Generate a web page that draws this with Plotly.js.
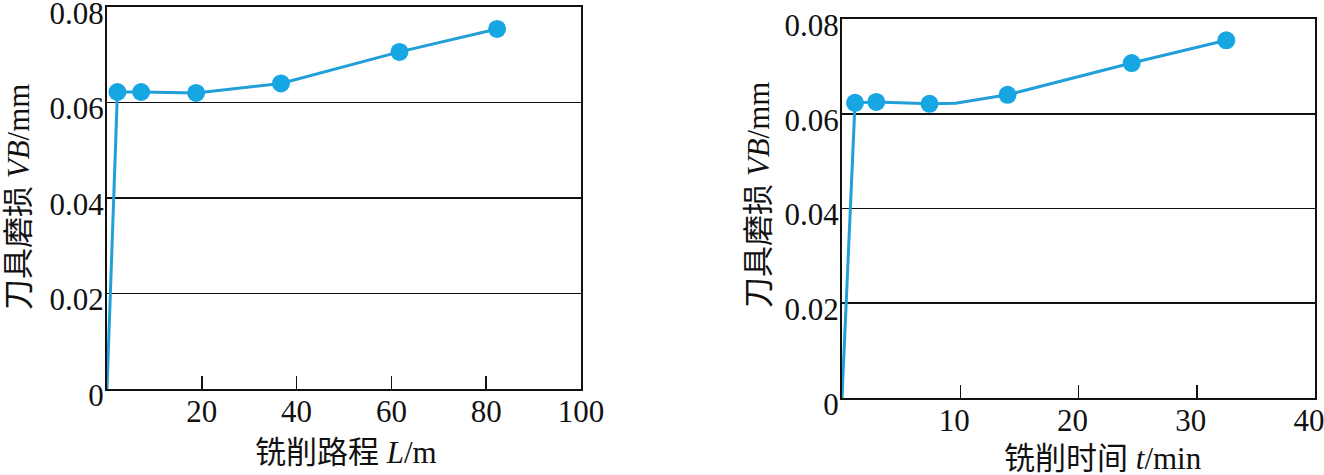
<!DOCTYPE html>
<html><head><meta charset="utf-8">
<script src="https://cdn.plot.ly/plotly-3.0.1.min.js"></script>
<style>html,body{margin:0;padding:0;background:#fff}#c{width:1324px;height:475px}</style>
</head><body><div id="c"></div>
<script>
// Left: wear vs milling distance
const distLine = [0, 2.2, 7.2, 18.8, 36.7, 61.7, 82.3];
const distLineVB = [0, 0.0622, 0.0622, 0.0620, 0.0640, 0.0706, 0.0754];
const distPts = [2.2, 7.2, 18.8, 36.7, 61.7, 82.3];
const distVB = [0.0622, 0.0622, 0.0620, 0.0640, 0.0706, 0.0754];
// Right: wear vs milling time
const timeLine = [0, 1.1, 2.9, 7.4, 9.6, 14.0, 24.5, 32.5];
const timeLineVB = [0, 0.0623, 0.0625, 0.0621, 0.0622, 0.0640, 0.0707, 0.0755];
const timePts = [1.1, 2.9, 7.4, 14.0, 24.5, 32.5];
const timeVB = [0.0623, 0.0625, 0.0621, 0.0640, 0.0707, 0.0755];
const yTicks = [0, 0.02, 0.04, 0.06, 0.08];
const yTickText = ['0', '0.02', '0.04', '0.06', '0.08'];
const xTicksL = [20, 40, 60, 80, 100];
const xTicksR = [10, 20, 30, 40];
const xTitleL = '铣削路程 <i>L</i>/m';
const xTitleR = '铣削时间 <i>t</i>/min';
const yTitle = '刀具磨损 <i>VB</i>/mm';

const lineCol = '#229ed8', ptCol = '#16a6e2';
const F = 'Liberation Serif, Times New Roman, Noto Sans CJK SC, serif';
const FS = 31;
const font = {family: F, size: FS, color: '#111'};
const traces = [
  {x: distLine, y: distLineVB, mode: 'lines', line: {color: lineCol, width: 3}, xaxis: 'x', yaxis: 'y', hoverinfo: 'skip'},
  {x: distPts, y: distVB, mode: 'markers', marker: {color: ptCol, size: 18}, xaxis: 'x', yaxis: 'y'},
  {x: timeLine, y: timeLineVB, mode: 'lines', line: {color: lineCol, width: 3}, xaxis: 'x2', yaxis: 'y2', hoverinfo: 'skip'},
  {x: timePts, y: timeVB, mode: 'markers', marker: {color: ptCol, size: 18}, xaxis: 'x2', yaxis: 'y2'}
];
const xCommon = {showline: true, mirror: true, linecolor: '#111', linewidth: 2, showgrid: false, zeroline: false,
  ticks: 'inside', ticklen: 13, tickwidth: 1.5, tickcolor: '#111', ticklabeloverflow: 'allow',
  tickfont: font, ticklabelstandoff: -6};
const yCommon = {showline: true, mirror: true, linecolor: '#111', linewidth: 2, showgrid: true, gridcolor: '#111', gridwidth: 1.6,
  zeroline: false, ticks: '', tickvals: yTicks, ticktext: yTickText, range: [0, 0.08], ticklabeloverflow: 'allow',
  tickfont: font, ticklabelstandoff: -5, ticklabelshift: 6};
const P = (px) => px / 1324, Q = (py) => 1 - py / 475;
const layout = {
  width: 1324, height: 475, margin: {l: 0, r: 0, t: 0, b: 0}, showlegend: false,
  paper_bgcolor: '#fff', plot_bgcolor: '#fff',
  xaxis: Object.assign({}, xCommon, {domain: [P(107), P(581)], range: [0, 100], tickvals: xTicksL, anchor: 'y'}),
  yaxis: Object.assign({}, yCommon, {domain: [Q(389), Q(7)], anchor: 'x'}),
  xaxis2: Object.assign({}, xCommon, {domain: [P(842), P(1315)], range: [0, 40], tickvals: xTicksR, anchor: 'y2', ticklabelshift: -6}),
  yaxis2: Object.assign({}, yCommon, {domain: [Q(398), Q(19)], anchor: 'x2'}),
  annotations: [
    {text: xTitleL, xref: 'paper', yref: 'paper', x: P(346), y: Q(452), xanchor: 'center', yanchor: 'middle', showarrow: false, font: font},
    {text: xTitleR, xref: 'paper', yref: 'paper', x: P(1103), y: Q(458), xanchor: 'center', yanchor: 'middle', showarrow: false, font: font},
    {text: yTitle, xref: 'paper', yref: 'paper', x: P(18), y: Q(197), xanchor: 'center', yanchor: 'middle', textangle: -90, showarrow: false, font: font},
    {text: yTitle, xref: 'paper', yref: 'paper', x: P(759), y: Q(195), xanchor: 'center', yanchor: 'middle', textangle: -90, showarrow: false, font: font}
  ]
};
Plotly.newPlot('c', traces, layout, {staticPlot: true});
</script></body></html>
